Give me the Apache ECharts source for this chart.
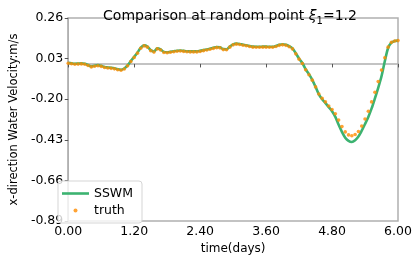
<!DOCTYPE html>
<html><head><meta charset="utf-8">
<script src="https://cdn.jsdelivr.net/npm/echarts@6/dist/echarts.min.js"></script>
<style>html,body{margin:0;padding:0;background:#fff}#c{width:415px;height:260px}</style>
</head><body><div id="c"></div>
<script>
const timeStep = 0.06;
const sswm = [0.007,0.004,0.001,0.002,0.003,0.001,-0.006,-0.014,-0.010,-0.007,
-0.011,-0.017,-0.020,-0.022,-0.025,-0.030,-0.033,-0.026,-0.008,0.017,
0.040,0.064,0.092,0.105,0.098,0.078,0.070,0.088,0.082,0.068,
0.066,0.069,0.072,0.075,0.076,0.074,0.072,0.071,0.071,0.071,
0.074,0.078,0.082,0.086,0.091,0.095,0.094,0.084,0.083,0.098,
0.111,0.115,0.113,0.109,0.106,0.102,0.098,0.097,0.097,0.098,
0.098,0.097,0.097,0.102,0.108,0.111,0.108,0.100,0.088,0.060,
0.030,0.005,-0.030,-0.058,-0.090,-0.130,-0.172,-0.200,-0.222,-0.245,
-0.268,-0.300,-0.345,-0.385,-0.418,-0.436,-0.442,-0.432,-0.411,-0.378,
-0.340,-0.300,-0.252,-0.195,-0.135,-0.070,0.015,0.090,0.120,0.130,
0.132];
const truth = [0.004,0.001,-0.002,-0.001,0.000,-0.002,-0.009,-0.017,-0.013,-0.010,
-0.014,-0.020,-0.023,-0.025,-0.028,-0.033,-0.036,-0.029,-0.011,0.014,
0.037,0.061,0.089,0.102,0.095,0.075,0.067,0.085,0.079,0.065,
0.063,0.066,0.069,0.072,0.073,0.071,0.069,0.068,0.068,0.068,
0.071,0.075,0.079,0.083,0.088,0.092,0.091,0.081,0.080,0.095,
0.108,0.112,0.110,0.106,0.103,0.099,0.095,0.094,0.094,0.095,
0.095,0.094,0.094,0.099,0.105,0.108,0.105,0.097,0.085,0.057,
0.027,0.002,-0.033,-0.061,-0.092,-0.130,-0.170,-0.195,-0.215,-0.238,
-0.258,-0.282,-0.318,-0.355,-0.385,-0.402,-0.407,-0.400,-0.383,-0.352,
-0.312,-0.268,-0.215,-0.160,-0.100,-0.035,0.035,0.095,0.122,0.130,
0.132];
const times = sswm.map((_, i) => +(i * timeStep).toFixed(2));
const xTicks = [0.00, 1.20, 2.40, 3.60, 4.80, 6.00];
const yTicks = [-0.89, -0.66, -0.43, -0.20, 0.03, 0.26];
const seriesNames = ['SSWM', 'truth'];
const titleText = ['Comparison at random point ', 'ξ', '1', '=1.2'];

const FONT = 'DejaVu Sans';
const chart = echarts.init(document.getElementById('c'), null, {renderer: 'canvas'});
chart.setOption({
  animation: false,
  backgroundColor: '#fff',
  textStyle: {fontFamily: FONT},
  title: {
    text: '{a|' + titleText[0] + '}{i|' + titleText[1] + '}{s|' + titleText[2] + '}{a|' + titleText[3] + '}',
    left: 225, top: 1, textAlign: 'center',
    textStyle: {
      fontWeight: 'normal',
      rich: {
        a: {fontFamily: FONT, fontSize: 14, fontWeight: 'normal', color: '#000', verticalAlign: 'bottom', lineHeight: 17},
        i: {fontFamily: FONT, fontSize: 14, fontWeight: 'normal', fontStyle: 'italic', color: '#000', verticalAlign: 'bottom', lineHeight: 17},
        s: {fontFamily: FONT, fontSize: 10, fontWeight: 'normal', color: '#000', verticalAlign: 'bottom', lineHeight: 13, padding: [0, 0, -3, 0]}
      }
    }
  },
  grid: {left: 52, right: 17, top: 18, bottom: 33, show: true, borderColor: '#b0b0b0', borderWidth: 1.5, containLabel: false},
  legend: {
    left: 58, top: 181, orient: 'vertical',
    padding: [5, 9, 5, 4], itemGap: 2, itemWidth: 27, itemHeight: 4,
    borderColor: '#d5d5d5', borderWidth: 1, borderRadius: 3, backgroundColor: 'rgba(255,255,255,0.8)',
    textStyle: {fontFamily: FONT, fontSize: 12.5, color: '#000', lineHeight: 15},
    data: [
      {name: seriesNames[0], icon: 'path://M0,0L27,0L27,2.6L0,2.6Z', itemStyle: {color: '#3cb371'}},
      {name: seriesNames[1], icon: 'circle', itemStyle: {color: '#ff8c00'}}
    ]
  },
  xAxis: {
    type: 'value', min: 0, max: 6, interval: 1.2,
    name: 'time(days)', nameLocation: 'middle', nameGap: 19,
    nameTextStyle: {fontFamily: FONT, fontSize: 12, color: '#000'},
    axisLine: {show: true, lineStyle: {color: '#b0b0b0', width: 1.5}},
    axisTick: {show: true, length: 3.5, lineStyle: {color: '#555'}, customValues: xTicks},
    axisLabel: {customValues: xTicks, formatter: v => v.toFixed(2), fontFamily: FONT, fontSize: 12.5, color: '#000', margin: 4},
    splitLine: {show: false}
  },
  yAxis: {
    type: 'value', min: -0.89, max: 0.26,
    name: 'x-direction Water Velocity:m/s', nameLocation: 'middle', nameGap: 38,
    nameTextStyle: {fontFamily: FONT, fontSize: 11.5, color: '#000'},
    axisLine: {show: true, lineStyle: {color: '#b0b0b0', width: 1.5}},
    axisTick: {show: true, length: 3.5, lineStyle: {color: '#555'}, customValues: yTicks},
    axisLabel: {customValues: yTicks, formatter: v => v.toFixed(2), fontFamily: FONT, fontSize: 12.5, color: '#000', margin: 5},
    splitLine: {show: false}
  },
  series: [
    {
      name: seriesNames[0], type: 'line', symbol: 'none', smooth: 0.3,
      data: times.map((t, i) => [t, sswm[i]]),
      lineStyle: {color: '#3cb371', width: 2.6}, itemStyle: {color: '#3cb371'}, z: 2
    },
    {
      name: seriesNames[1], type: 'scatter', symbol: 'circle', symbolSize: 3.6,
      data: times.map((t, i) => [t, truth[i]]),
      itemStyle: {color: '#ff8c00'}, z: 3
    }
  ]
});
</script></body></html>
